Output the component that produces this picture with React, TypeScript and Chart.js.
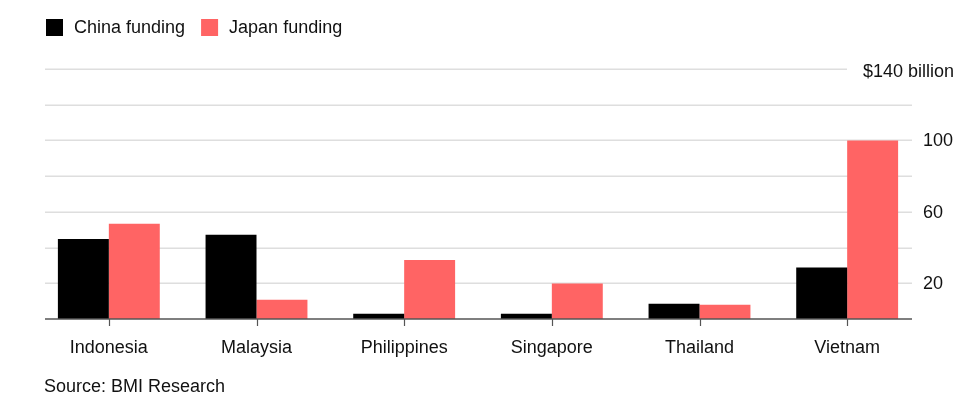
import React, { useEffect, useRef } from "react";
import { Chart, registerables } from "chart.js";

Chart.register(...registerables);

const categories = ["Indonesia", "Malaysia", "Philippines", "Singapore", "Thailand", "Vietnam"];
const chinaFunding = [44.8, 47.2, 3.0, 3.0, 8.6, 28.9];
const japanFunding = [53.4, 10.8, 33.0, 19.9, 8.0, 100];
const gridValues = [0, 20, 40, 60, 80, 100, 120, 140];
const tickLabels = [
  { value: 20, text: "20" },
  { value: 60, text: "60" },
  { value: 100, text: "100" },
  { value: 140, text: "$140 billion" },
];
const seriesNames = ["China funding", "Japan funding"];
const seriesColors = ["#000000", "#ff6464"];
const sourceText = "Source: BMI Research";

const FONT = "'Liberation Sans', Arial, Helvetica, sans-serif";

const customPlugin = {
  id: "custom",
  beforeDatasetsDraw(chart: any) {
    const { ctx, chartArea, scales } = chart;
    const y = scales.y;
    const gl = chartArea.left + 10;
    const gr = chartArea.right - 9;
    ctx.save();
    ctx.strokeStyle = "#dedede";
    ctx.lineWidth = 1.5;
    gridValues.forEach((v) => {
      if (v === 0) return;
      const py = Math.round(y.getPixelForValue(v)) + 0.25;
      const right = v === 140 ? chartArea.right - 74 : gr;
      ctx.beginPath();
      ctx.moveTo(gl, py);
      ctx.lineTo(right, py);
      ctx.stroke();
    });
    ctx.restore();
  },
  afterDatasetsDraw(chart: any) {
    const { ctx, chartArea, scales } = chart;
    const y = scales.y;
    const x = scales.x;
    const gl = chartArea.left + 10;
    const gr = chartArea.right - 9;
    ctx.save();
    // axis line
    const zy = y.getPixelForValue(0);
    ctx.strokeStyle = "#555555";
    ctx.lineWidth = 1.5;
    ctx.beginPath();
    ctx.moveTo(gl, zy);
    ctx.lineTo(gr, zy);
    ctx.stroke();
    // tick marks
    ctx.lineWidth = 1.2;
    categories.forEach((_, i) => {
      const px = Math.round(x.getPixelForValue(i)) + 0.5;
      ctx.beginPath();
      ctx.moveTo(px, zy);
      ctx.lineTo(px, zy + 7);
      ctx.stroke();
    });
    // y labels
    ctx.fillStyle = "#111111";
    ctx.font = `18px ${FONT}`;
    ctx.textBaseline = "middle";
    tickLabels.forEach((t) => {
      const py = y.getPixelForValue(t.value) + 1;
      if (t.value === 140) {
        ctx.textAlign = "right";
        ctx.fillText(t.text, chartArea.right + 33, py + 2);
      } else {
        ctx.textAlign = "left";
        ctx.fillText(t.text, chartArea.right + 2, py);
      }
    });
    // legend
    let lx = 38;
    const ly = 11;
    ctx.textAlign = "left";
    ctx.textBaseline = "middle";
    seriesNames.forEach((name, i) => {
      ctx.fillStyle = seriesColors[i];
      ctx.fillRect(lx, ly, 17, 17);
      ctx.fillStyle = "#111111";
      ctx.fillText(name, lx + 28, ly + 9);
      lx += 28 + ctx.measureText(name).width + 16;
    });
    // source
    ctx.fillText(sourceText, 36, 379);
    ctx.restore();
  },
};

export default function App() {
  const ref = useRef<HTMLCanvasElement>(null);
  useEffect(() => {
    if (!ref.current) return;
    const chart = new Chart(ref.current, {
      type: "bar",
      data: {
        labels: categories,
        datasets: [
          { label: seriesNames[0], data: chinaFunding, backgroundColor: seriesColors[0] },
          { label: seriesNames[1], data: japanFunding, backgroundColor: seriesColors[1] },
        ],
      },
      options: {
        responsive: false,
        animation: false,
        maintainAspectRatio: false,
        layout: { padding: { left: 27, right: 0, top: 61, bottom: 22 } },
        datasets: {
          bar: { categoryPercentage: 0.69, barPercentage: 1.0 },
        },
        plugins: {
          legend: { display: false },
          tooltip: { enabled: false },
        },
        scales: {
          x: {
            offset: true,
            grid: { display: false },
            border: { display: false },
            ticks: {
              color: "#111111",
              font: { family: FONT, size: 18 },
              padding: 10,
              maxRotation: 0,
            },
            afterFit: (s: any) => {
              s.height = 70;
            },
          },
          y: {
            position: "right",
            min: 0,
            max: 140,
            grid: { display: false },
            border: { display: false },
            ticks: { display: false },
            afterFit: (s: any) => {
              s.width = 47;
            },
          },
        },
      },
      plugins: [customPlugin],
    });
    return () => chart.destroy();
  }, []);
  return (
    <div style={{ width: 960, height: 403 }}>
      <canvas ref={ref} width={960} height={403} style={{ width: 960, height: 403 }} />
    </div>
  );
}
